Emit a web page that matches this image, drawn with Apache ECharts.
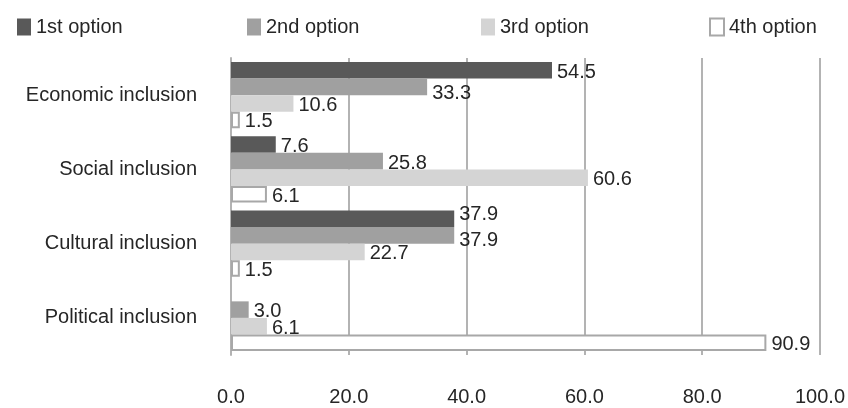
<!DOCTYPE html>
<html>
<head>
<meta charset="utf-8">
<script src="https://cdn.jsdelivr.net/npm/echarts@6/dist/echarts.min.js"></script>
<style>
  html, body { margin: 0; padding: 0; background: #ffffff; }
  #chart { width: 848px; height: 408px; }
</style>
</head>
<body>
<div id="chart"></div>
<script>
// Categories (top to bottom) and the share choosing each option
const categories = ['Economic inclusion', 'Social inclusion', 'Cultural inclusion', 'Political inclusion'];
const seriesNames = ['1st option', '2nd option', '3rd option', '4th option'];
const firstOption  = [54.5, 7.6, 37.9, null];
const secondOption = [33.3, 25.8, 37.9, 3.0];
const thirdOption  = [10.6, 60.6, 22.7, 6.1];
const fourthOption = [1.5, 6.1, 1.5, 90.9];
const xTicks = [0, 20, 40, 60, 80, 100];

const seriesValues = [firstOption, secondOption, thirdOption, fourthOption];

const FONT = "'Liberation Sans', Arial, sans-serif";
const TEXT = '#262626';
const GRID = '#b3b3b3';

const barStyles = [
  { color: '#595959' },
  { color: '#a0a0a0' },
  { color: '#d4d4d4' },
  { color: '#ffffff', borderColor: '#a8a8a8', borderWidth: 2 }
];
const legendLeft = [12, 242, 476, 704];

// small vertical nudges so coincident labels don't sit on top of each other
const labelNudge = { '0-2': -6, '1-2': 3, '1-0': 5 };

const chart = echarts.init(document.getElementById('chart'), null, { renderer: 'canvas' });

const series = seriesValues.map((vals, si) => ({
  name: seriesNames[si],
  type: 'bar',
  data: vals.map((v, di) => {
    const item = { value: v };
    const key = si + '-' + di;
    if (labelNudge[key] !== undefined) {
      item.label = { offset: [0, 2 + labelNudge[key]] };
    }
    return item;
  }),
  barGap: '0%',
  barCategoryGap: '11%',
  itemStyle: barStyles[si],
  label: {
    show: true,
    position: 'right',
    distance: 5,
    offset: [0, 2],
    fontSize: 20,
    fontFamily: FONT,
    color: TEXT,
    formatter: p => (p.value == null ? '' : Number(p.value).toFixed(1))
  }
}));

chart.setOption({
  animation: false,
  backgroundColor: '#ffffff',
  textStyle: { fontFamily: FONT },
  legend: seriesNames.map((n, i) => ({
    data: [n],
    left: legendLeft[i],
    top: 12,
    icon: 'rect',
    itemWidth: 14,
    itemHeight: 17,
    selectedMode: false,
    textStyle: { fontSize: 20, color: TEXT, fontFamily: FONT }
  })),
  grid: { left: 231, right: 19, top: 58, bottom: 53, containLabel: false },
  xAxis: {
    type: 'value',
    min: xTicks[0],
    max: xTicks[xTicks.length - 1],
    interval: xTicks[1] - xTicks[0],
    axisLine: { show: false },
    axisTick: { show: false },
    splitLine: { show: true, lineStyle: { color: GRID, width: 2 } },
    axisLabel: {
      fontSize: 20,
      color: TEXT,
      margin: 32,
      formatter: v => Number(v).toFixed(1)
    }
  },
  yAxis: {
    type: 'category',
    data: categories,
    inverse: true,
    axisLine: { show: true, lineStyle: { color: GRID, width: 2 } },
    axisTick: { show: false },
    axisLabel: { fontSize: 20, color: TEXT, margin: 34, padding: [6, 0, 0, 0] }
  },
  series: series
});
</script>
</body>
</html>
